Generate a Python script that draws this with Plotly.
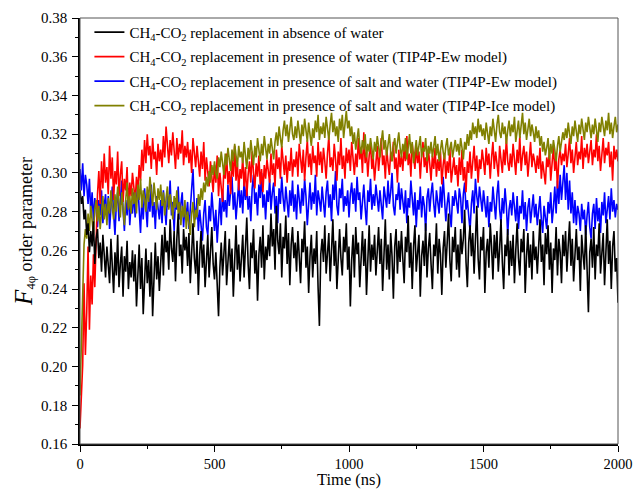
import plotly.graph_objects as go

# Simulation time axis (ns), one sample every 5 ns
time_ns = list(range(0, 2001, 5))

# F4phi order parameter, CH4-CO2 replacement without water
f4_no_water = [
    0.291, 0.284, 0.288, 0.276, 0.281, 0.268, 0.274, 0.259, 0.270, 0.262, 0.275, 0.253, 0.266, 0.271, 0.256, 0.264, 0.249, 0.268, 0.258, 0.246,
    0.262, 0.251, 0.243, 0.266, 0.255, 0.238, 0.259, 0.247, 0.268, 0.241, 0.253, 0.262, 0.236, 0.257, 0.249, 0.265, 0.240, 0.254, 0.246, 0.260,
    0.244, 0.258, 0.231, 0.252, 0.263, 0.240, 0.256, 0.227, 0.249, 0.261, 0.243, 0.255, 0.236, 0.259, 0.226, 0.250, 0.264, 0.245, 0.257, 0.239,
    0.255, 0.268, 0.247, 0.272, 0.259, 0.265, 0.250, 0.276, 0.261, 0.254, 0.270, 0.244, 0.266, 0.279, 0.257, 0.263, 0.248, 0.271, 0.260, 0.267,
    0.252, 0.269, 0.243, 0.261, 0.274, 0.256, 0.248, 0.265, 0.237, 0.258, 0.270, 0.251, 0.263, 0.241, 0.257, 0.268, 0.246, 0.262, 0.272, 0.253,
    0.245, 0.259, 0.238, 0.226, 0.251, 0.264, 0.247, 0.258, 0.270, 0.242, 0.255, 0.266, 0.249, 0.261, 0.236, 0.257, 0.273, 0.250, 0.263, 0.244,
    0.259, 0.268, 0.246, 0.262, 0.277, 0.253, 0.240, 0.264, 0.256, 0.271, 0.248, 0.260, 0.234, 0.258, 0.267, 0.251, 0.273, 0.245, 0.262, 0.255,
    0.268, 0.257, 0.279, 0.262, 0.271, 0.250, 0.283, 0.265, 0.258, 0.274, 0.246, 0.267, 0.261, 0.278, 0.253, 0.269, 0.242, 0.263, 0.272, 0.256,
    0.264, 0.249, 0.270, 0.257, 0.243, 0.266, 0.259, 0.275, 0.251, 0.262, 0.238, 0.257, 0.268, 0.246, 0.261, 0.253, 0.270, 0.241, 0.221, 0.258,
    0.266, 0.254, 0.273, 0.248, 0.262, 0.269, 0.244, 0.258, 0.276, 0.252, 0.265, 0.240, 0.261, 0.271, 0.256, 0.247, 0.267, 0.259, 0.274, 0.250,
    0.262, 0.231, 0.255, 0.268, 0.246, 0.272, 0.258, 0.264, 0.241, 0.260, 0.270, 0.252, 0.266, 0.237, 0.257, 0.273, 0.249, 0.263, 0.255, 0.268,
    0.247, 0.261, 0.272, 0.253, 0.266, 0.239, 0.258, 0.276, 0.250, 0.263, 0.245, 0.269, 0.257, 0.235, 0.262, 0.271, 0.248, 0.265, 0.254, 0.270,
    0.256, 0.243, 0.267, 0.259, 0.278, 0.251, 0.264, 0.240, 0.262, 0.273, 0.249, 0.258, 0.268, 0.236, 0.257, 0.265, 0.252, 0.274, 0.246, 0.261,
    0.269, 0.253, 0.240, 0.263, 0.257, 0.274, 0.248, 0.266, 0.258, 0.237, 0.261, 0.270, 0.251, 0.264, 0.279, 0.255, 0.244, 0.267, 0.259, 0.272,
    0.250, 0.263, 0.246, 0.271, 0.258, 0.266, 0.281, 0.254, 0.241, 0.264, 0.273, 0.257, 0.269, 0.248, 0.262, 0.283, 0.256, 0.245, 0.267, 0.260,
    0.272, 0.238, 0.259, 0.266, 0.251, 0.274, 0.262, 0.245, 0.268, 0.256, 0.270, 0.249, 0.261, 0.276, 0.254, 0.240, 0.263, 0.257, 0.271, 0.247,
    0.265, 0.252, 0.268, 0.243, 0.260, 0.274, 0.256, 0.247, 0.266, 0.259, 0.271, 0.238, 0.257, 0.269, 0.251, 0.263, 0.245, 0.270, 0.255, 0.262,
    0.248, 0.267, 0.276, 0.254, 0.263, 0.242, 0.269, 0.258, 0.273, 0.250, 0.264, 0.238, 0.261, 0.255, 0.272, 0.247, 0.266, 0.259, 0.243, 0.268,
    0.257, 0.270, 0.249, 0.263, 0.275, 0.252, 0.266, 0.244, 0.260, 0.271, 0.255, 0.262, 0.239, 0.268, 0.258, 0.250, 0.273, 0.246, 0.228, 0.259,
    0.266, 0.251, 0.272, 0.245, 0.263, 0.257, 0.274, 0.248, 0.261, 0.269, 0.242, 0.258, 0.276, 0.253, 0.265, 0.240, 0.262, 0.270, 0.249, 0.256,
    0.233,
]

# With water (TIP4P-Ew)
f4_water_ew = [
    0.168, 0.186, 0.201, 0.243, 0.206, 0.228, 0.262, 0.219, 0.247, 0.232, 0.258, 0.241, 0.266, 0.289, 0.301, 0.284, 0.306, 0.292, 0.310, 0.295,
    0.303, 0.289, 0.314, 0.297, 0.308, 0.286, 0.301, 0.294, 0.311, 0.288, 0.299, 0.306, 0.285, 0.297, 0.291, 0.303, 0.282, 0.295, 0.288, 0.300,
    0.293, 0.285, 0.298, 0.290, 0.304, 0.296, 0.312, 0.301, 0.317, 0.305, 0.320, 0.309, 0.314, 0.302, 0.318, 0.307, 0.311, 0.299, 0.315, 0.306,
    0.312, 0.303, 0.319, 0.308, 0.324, 0.311, 0.305, 0.317, 0.309, 0.321, 0.313, 0.302, 0.318, 0.307, 0.315, 0.310, 0.322, 0.304, 0.314, 0.308,
    0.316, 0.305, 0.312, 0.300, 0.318, 0.309, 0.303, 0.314, 0.307, 0.298, 0.311, 0.302, 0.316, 0.296, 0.308, 0.301, 0.293, 0.306, 0.299, 0.290,
    0.304, 0.295, 0.309, 0.288, 0.300, 0.292, 0.285, 0.303, 0.297, 0.310, 0.294, 0.301, 0.289, 0.307, 0.298, 0.314, 0.296, 0.305, 0.291, 0.302,
    0.297, 0.308, 0.293, 0.303, 0.288, 0.299, 0.306, 0.295, 0.311, 0.300, 0.292, 0.305, 0.298, 0.309, 0.294, 0.302, 0.290, 0.304, 0.297, 0.307,
    0.301, 0.295, 0.310, 0.299, 0.305, 0.293, 0.312, 0.302, 0.308, 0.297, 0.314, 0.304, 0.299, 0.309, 0.295, 0.306, 0.301, 0.313, 0.298, 0.307,
    0.303, 0.311, 0.298, 0.315, 0.306, 0.300, 0.312, 0.296, 0.308, 0.317, 0.303, 0.310, 0.299, 0.314, 0.305, 0.309, 0.298, 0.316, 0.304, 0.311,
    0.300, 0.313, 0.306, 0.297, 0.310, 0.319, 0.303, 0.308, 0.301, 0.315, 0.307, 0.296, 0.311, 0.304, 0.318, 0.302, 0.309, 0.297, 0.313, 0.305,
    0.312, 0.301, 0.316, 0.306, 0.299, 0.310, 0.303, 0.318, 0.307, 0.313, 0.300, 0.321, 0.305, 0.311, 0.298, 0.309, 0.315, 0.302, 0.308, 0.296,
    0.307, 0.314, 0.301, 0.310, 0.318, 0.304, 0.309, 0.297, 0.313, 0.305, 0.299, 0.311, 0.306, 0.316, 0.302, 0.308, 0.295, 0.312, 0.303, 0.309,
    0.301, 0.313, 0.306, 0.319, 0.304, 0.310, 0.298, 0.315, 0.307, 0.302, 0.314, 0.305, 0.311, 0.297, 0.309, 0.316, 0.303, 0.308, 0.300, 0.312,
    0.305, 0.296, 0.309, 0.302, 0.313, 0.298, 0.307, 0.301, 0.311, 0.294, 0.304, 0.310, 0.297, 0.306, 0.300, 0.313, 0.295, 0.303, 0.308, 0.299,
    0.304, 0.293, 0.308, 0.299, 0.312, 0.296, 0.303, 0.290, 0.306, 0.300, 0.311, 0.297, 0.305, 0.314, 0.301, 0.309, 0.295, 0.307, 0.302, 0.312,
    0.306, 0.299, 0.313, 0.304, 0.310, 0.297, 0.308, 0.316, 0.302, 0.311, 0.305, 0.298, 0.314, 0.307, 0.300, 0.312, 0.304, 0.318, 0.306, 0.301,
    0.310, 0.303, 0.315, 0.307, 0.299, 0.312, 0.305, 0.319, 0.301, 0.309, 0.314, 0.304, 0.311, 0.298, 0.308, 0.316, 0.303, 0.310, 0.306, 0.300,
    0.309, 0.302, 0.313, 0.297, 0.306, 0.300, 0.294, 0.308, 0.303, 0.311, 0.296, 0.305, 0.314, 0.301, 0.309, 0.292, 0.307, 0.312, 0.304, 0.310,
    0.306, 0.315, 0.303, 0.310, 0.318, 0.305, 0.312, 0.300, 0.309, 0.316, 0.304, 0.311, 0.307, 0.319, 0.302, 0.313, 0.308, 0.315, 0.305, 0.311,
    0.317, 0.304, 0.312, 0.308, 0.320, 0.306, 0.314, 0.301, 0.310, 0.318, 0.305, 0.313, 0.309, 0.316, 0.303, 0.311, 0.296, 0.314, 0.307, 0.312,
    0.306,
]

# With salt and water (TIP4P-Ew)
f4_salt_ew = [
    0.302, 0.291, 0.305, 0.288, 0.299, 0.294, 0.284, 0.297, 0.279, 0.290, 0.275, 0.287, 0.281, 0.272, 0.286, 0.278, 0.291, 0.274, 0.283, 0.289,
    0.276, 0.288, 0.271, 0.285, 0.293, 0.279, 0.268, 0.284, 0.290, 0.275, 0.287, 0.296, 0.281, 0.270, 0.286, 0.278, 0.292, 0.273, 0.284, 0.279,
    0.290, 0.277, 0.286, 0.295, 0.281, 0.269, 0.287, 0.276, 0.292, 0.283, 0.272, 0.289, 0.280, 0.294, 0.277, 0.285, 0.271, 0.288, 0.282, 0.276,
    0.286, 0.274, 0.291, 0.280, 0.273, 0.288, 0.282, 0.296, 0.278, 0.285, 0.270, 0.287, 0.281, 0.293, 0.276, 0.284, 0.290, 0.272, 0.283, 0.278,
    0.285, 0.271, 0.280, 0.289, 0.302, 0.283, 0.276, 0.287, 0.270, 0.281, 0.274, 0.265, 0.279, 0.286, 0.272, 0.268, 0.283, 0.275, 0.290, 0.277,
    0.270, 0.281, 0.264, 0.276, 0.287, 0.273, 0.291, 0.280, 0.286, 0.277, 0.294, 0.283, 0.289, 0.298, 0.281, 0.290, 0.276, 0.288, 0.295, 0.282,
    0.291, 0.279, 0.296, 0.286, 0.293, 0.281, 0.288, 0.275, 0.292, 0.299, 0.284, 0.290, 0.278, 0.294, 0.287, 0.300, 0.282, 0.289, 0.276, 0.291,
    0.285, 0.297, 0.281, 0.290, 0.295, 0.279, 0.288, 0.274, 0.292, 0.284, 0.298, 0.287, 0.280, 0.293, 0.286, 0.277, 0.291, 0.283, 0.296, 0.280,
    0.289, 0.276, 0.294, 0.285, 0.279, 0.292, 0.283, 0.297, 0.288, 0.273, 0.287, 0.295, 0.281, 0.290, 0.284, 0.299, 0.278, 0.291, 0.286, 0.280,
    0.293, 0.284, 0.277, 0.290, 0.296, 0.282, 0.289, 0.275, 0.294, 0.286, 0.301, 0.283, 0.278, 0.292, 0.287, 0.297, 0.280, 0.288, 0.283, 0.291,
    0.277, 0.289, 0.295, 0.284, 0.292, 0.280, 0.298, 0.286, 0.290, 0.276, 0.288, 0.294, 0.282, 0.273, 0.291, 0.285, 0.297, 0.281, 0.289, 0.283,
    0.294, 0.287, 0.280, 0.291, 0.285, 0.276, 0.293, 0.288, 0.282, 0.296, 0.284, 0.290, 0.300, 0.283, 0.278, 0.289, 0.286, 0.295, 0.281, 0.292,
    0.285, 0.279, 0.291, 0.274, 0.287, 0.282, 0.296, 0.284, 0.278, 0.290, 0.272, 0.286, 0.281, 0.293, 0.277, 0.288, 0.283, 0.270, 0.287, 0.292,
    0.280, 0.289, 0.295, 0.284, 0.277, 0.291, 0.286, 0.279, 0.293, 0.282, 0.298, 0.287, 0.275, 0.284, 0.290, 0.279, 0.272, 0.288, 0.283, 0.291,
    0.285, 0.279, 0.292, 0.287, 0.274, 0.289, 0.295, 0.281, 0.286, 0.277, 0.270, 0.284, 0.291, 0.279, 0.297, 0.288, 0.282, 0.293, 0.286, 0.280,
    0.291, 0.283, 0.277, 0.288, 0.272, 0.285, 0.280, 0.293, 0.284, 0.276, 0.289, 0.296, 0.281, 0.274, 0.287, 0.279, 0.292, 0.283, 0.268, 0.281,
    0.286, 0.278, 0.290, 0.282, 0.275, 0.288, 0.271, 0.283, 0.279, 0.291, 0.276, 0.285, 0.270, 0.282, 0.287, 0.274, 0.280, 0.289, 0.277, 0.284,
    0.273, 0.281, 0.288, 0.276, 0.269, 0.283, 0.277, 0.271, 0.285, 0.279, 0.290, 0.274, 0.282, 0.293, 0.279, 0.296, 0.284, 0.299, 0.286, 0.297,
    0.304, 0.286, 0.300, 0.281, 0.296, 0.279, 0.290, 0.274, 0.286, 0.273, 0.283, 0.279, 0.270, 0.284, 0.276, 0.281, 0.268, 0.278, 0.285, 0.272,
    0.266, 0.279, 0.284, 0.271, 0.287, 0.275, 0.282, 0.269, 0.285, 0.278, 0.290, 0.274, 0.283, 0.288, 0.276, 0.292, 0.280, 0.286, 0.277, 0.284,
    0.281,
]

# With salt and water (TIP4P-Ice)
f4_salt_ice = [
    0.185, 0.216, 0.249, 0.263, 0.271, 0.266, 0.279, 0.270, 0.283, 0.274, 0.268, 0.281, 0.286, 0.275, 0.283, 0.271, 0.279, 0.288, 0.276, 0.284,
    0.273, 0.287, 0.279, 0.291, 0.282, 0.276, 0.289, 0.280, 0.293, 0.284, 0.277, 0.290, 0.282, 0.273, 0.286, 0.295, 0.281, 0.288, 0.279, 0.292,
    0.284, 0.290, 0.279, 0.294, 0.286, 0.297, 0.282, 0.291, 0.287, 0.280, 0.293, 0.285, 0.298, 0.289, 0.283, 0.295, 0.287, 0.281, 0.292, 0.286,
    0.294, 0.283, 0.290, 0.278, 0.287, 0.293, 0.281, 0.289, 0.284, 0.276, 0.288, 0.282, 0.291, 0.279, 0.285, 0.273, 0.283, 0.277, 0.286, 0.271,
    0.280, 0.274, 0.268, 0.279, 0.285, 0.272, 0.281, 0.277, 0.289, 0.283, 0.292, 0.286, 0.295, 0.290, 0.298, 0.293, 0.301, 0.295, 0.304, 0.299,
    0.306, 0.300, 0.297, 0.308, 0.303, 0.311, 0.305, 0.299, 0.310, 0.304, 0.313, 0.307, 0.301, 0.312, 0.306, 0.315, 0.309, 0.303, 0.314, 0.308,
    0.311, 0.305, 0.316, 0.309, 0.302, 0.313, 0.307, 0.317, 0.310, 0.304, 0.314, 0.308, 0.318, 0.311, 0.306, 0.315, 0.309, 0.319, 0.312, 0.307,
    0.315, 0.310, 0.318, 0.312, 0.307, 0.316, 0.321, 0.314, 0.324, 0.318, 0.313, 0.322, 0.327, 0.319, 0.325, 0.316, 0.323, 0.329, 0.320, 0.317,
    0.324, 0.318, 0.327, 0.321, 0.315, 0.325, 0.319, 0.328, 0.322, 0.316, 0.326, 0.320, 0.314, 0.323, 0.318, 0.327, 0.321, 0.330, 0.317, 0.324,
    0.320, 0.326, 0.318, 0.329, 0.323, 0.317, 0.325, 0.331, 0.321, 0.327, 0.319, 0.324, 0.316, 0.328, 0.322, 0.330, 0.318, 0.326, 0.332, 0.323,
    0.327, 0.319, 0.324, 0.315, 0.321, 0.312, 0.318, 0.323, 0.314, 0.310, 0.317, 0.312, 0.320, 0.308, 0.315, 0.311, 0.318, 0.313, 0.307, 0.316,
    0.311, 0.319, 0.313, 0.308, 0.316, 0.322, 0.312, 0.317, 0.309, 0.315, 0.320, 0.311, 0.306, 0.314, 0.318, 0.310, 0.316, 0.321, 0.313, 0.308,
    0.315, 0.311, 0.318, 0.307, 0.313, 0.320, 0.310, 0.316, 0.305, 0.312, 0.317, 0.309, 0.314, 0.319, 0.308, 0.313, 0.311, 0.318, 0.306, 0.314,
    0.310, 0.316, 0.308, 0.313, 0.319, 0.309, 0.315, 0.306, 0.312, 0.317, 0.311, 0.307, 0.314, 0.318, 0.309, 0.313, 0.316, 0.308, 0.312, 0.317,
    0.311, 0.315, 0.309, 0.318, 0.313, 0.307, 0.316, 0.312, 0.320, 0.314, 0.322, 0.317, 0.326, 0.320, 0.324, 0.318, 0.328, 0.321, 0.325, 0.319,
    0.323, 0.317, 0.326, 0.320, 0.315, 0.324, 0.319, 0.328, 0.322, 0.316, 0.325, 0.330, 0.321, 0.318, 0.326, 0.320, 0.324, 0.315, 0.322, 0.327,
    0.319, 0.325, 0.321, 0.329, 0.316, 0.323, 0.327, 0.318, 0.324, 0.331, 0.320, 0.326, 0.317, 0.323, 0.328, 0.319, 0.325, 0.321, 0.316, 0.324,
    0.318, 0.322, 0.314, 0.319, 0.311, 0.316, 0.309, 0.313, 0.318, 0.307, 0.315, 0.310, 0.317, 0.312, 0.306, 0.314, 0.319, 0.311, 0.316, 0.321,
    0.317, 0.323, 0.318, 0.326, 0.320, 0.315, 0.324, 0.319, 0.327, 0.321, 0.316, 0.325, 0.320, 0.328, 0.322, 0.317, 0.326, 0.321, 0.329, 0.323,
    0.318, 0.325, 0.320, 0.328, 0.322, 0.316, 0.326, 0.321, 0.329, 0.324, 0.319, 0.327, 0.322, 0.331, 0.320, 0.326, 0.318, 0.324, 0.329, 0.321,
    0.325,
]

legend_names = [
    "CH<sub>4</sub>-CO<sub>2</sub> replacement in absence of water",
    "CH<sub>4</sub>-CO<sub>2</sub> replacement in presence of water (TIP4P-Ew model)",
    "CH<sub>4</sub>-CO<sub>2</sub> replacement in presence of salt and water (TIP4P-Ew model)",
    "CH<sub>4</sub>-CO<sub>2</sub> replacement in presence of salt and water (TIP4P-Ice model)",
]
series = [f4_no_water, f4_water_ew, f4_salt_ew, f4_salt_ice]
colors = ["#000000", "#FF0000", "#0000FF", "#808000"]

for s in series:
    assert len(s) == len(time_ns), len(s)

FONT = "Liberation Serif, Times New Roman, serif"

fig = go.Figure()
# draw order: blue, red, olive, black (black on top); legend keeps original order
draw_order = [2, 1, 3, 0]
for i in draw_order:
    fig.add_trace(go.Scatter(
        x=time_ns, y=series[i], mode="lines", name=legend_names[i],
        line=dict(color=colors[i], width=1.6),
        legendrank=i + 1, legendgroup=str(i),
    ))

axis_common = dict(
    showline=True, linecolor="black", linewidth=1.6, mirror=False,
    ticks="outside", ticklen=6, tickwidth=1.2, tickcolor="black",
    showgrid=False, zeroline=False, automargin=False,
    minor=dict(ticks="outside", ticklen=3, tickwidth=1, tickcolor="black"),
)

fig.update_xaxes(
    range=[0, 2000], tickvals=[0, 500, 1000, 1500, 2000],
    minor_tickvals=[250, 750, 1250, 1750], ticklabelstandoff=0,
    tickfont=dict(family=FONT, size=14.5, color="black"),
    **axis_common,
)
fig.update_yaxes(
    range=[0.16, 0.38], tickvals=[0.16 + 0.02 * k for k in range(12)],
    ticktext=[f"{0.16 + 0.02 * k:.2f}" for k in range(12)],
    minor_tickvals=[0.17 + 0.02 * k for k in range(11)], ticklabelstandoff=2,
    tickfont=dict(family=FONT, size=15, color="black"),
    title=dict(text="<span style='font-size:25px'><i>F</i></span><sub>4φ</sub> order parameter",
               font=dict(family=FONT, size=18, color="black"), standoff=4),
    **axis_common,
)

# x-axis title placed just under the tick labels
fig.add_annotation(text="Time (ns)", xref="paper", yref="paper", x=0.5, y=0,
                   yshift=-35, xanchor="center", yanchor="middle", showarrow=False,
                   font=dict(family=FONT, size=16.5, color="black"))

# thin frame on the top and right
fig.add_shape(type="rect", xref="paper", yref="paper", x0=0, y0=0, x1=1, y1=1,
              line=dict(color="#555555", width=1), layer="above")

fig.update_layout(
    width=634, height=490,
    margin=dict(l=80, r=16, t=18, b=46),
    plot_bgcolor="white", paper_bgcolor="white",
    font=dict(family=FONT, size=15, color="black"),
    legend=dict(x=0.0175, y=1.005, xanchor="left", yanchor="top",
                bgcolor="rgba(0,0,0,0)", borderwidth=0,
                font=dict(family=FONT, size=15, color="black"),
                tracegroupgap=2, itemwidth=30),
    showlegend=True,
)

fig.write_html("out.html")
